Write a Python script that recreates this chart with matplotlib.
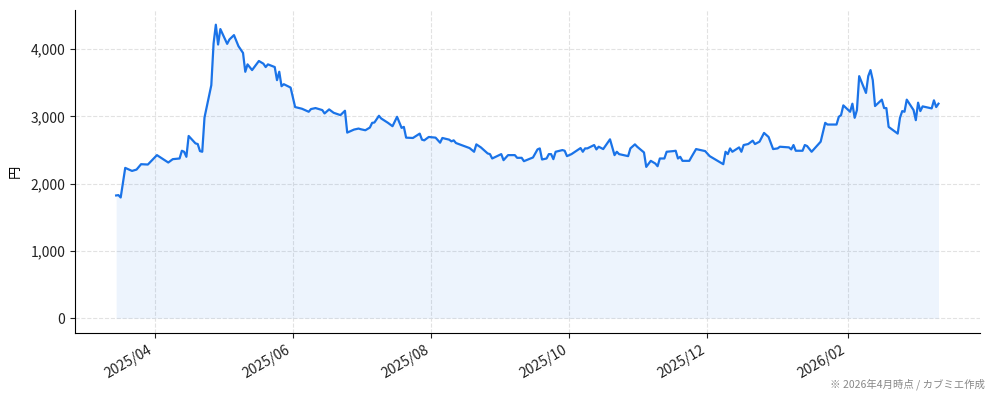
import numpy as np
import pandas as pd
import matplotlib
matplotlib.use("Agg")
import matplotlib.pyplot as plt
import matplotlib.dates as mdates
from matplotlib.ticker import FuncFormatter

plt.rcParams["font.family"] = ["Noto Sans CJK JP", "DejaVu Sans"]

# price readings (date, close in yen)
dates = [
    "2025-03-15", "2025-03-16", "2025-03-17", "2025-03-19", "2025-03-22", "2025-03-24",
    "2025-03-26", "2025-03-29", "2025-04-02", "2025-04-07", "2025-04-09", "2025-04-12",
    "2025-04-13", "2025-04-14", "2025-04-15", "2025-04-16", "2025-04-19", "2025-04-20",
    "2025-04-21", "2025-04-22", "2025-04-23", "2025-04-26", "2025-04-27", "2025-04-28",
    "2025-04-29", "2025-04-30", "2025-05-03", "2025-05-04", "2025-05-06", "2025-05-08",
    "2025-05-10", "2025-05-11", "2025-05-12", "2025-05-14", "2025-05-17", "2025-05-19",
    "2025-05-20", "2025-05-21", "2025-05-24", "2025-05-25", "2025-05-26", "2025-05-27",
    "2025-05-28", "2025-05-31", "2025-06-02", "2025-06-05", "2025-06-08", "2025-06-09",
    "2025-06-11", "2025-06-14", "2025-06-15", "2025-06-17", "2025-06-19", "2025-06-22",
    "2025-06-24", "2025-06-25", "2025-06-28", "2025-06-30", "2025-07-01", "2025-07-03",
    "2025-07-05", "2025-07-06", "2025-07-07", "2025-07-09", "2025-07-10", "2025-07-13",
    "2025-07-15", "2025-07-17", "2025-07-19", "2025-07-20", "2025-07-21", "2025-07-24",
    "2025-07-27", "2025-07-28", "2025-07-29", "2025-07-31", "2025-08-03", "2025-08-05",
    "2025-08-06", "2025-08-09", "2025-08-10", "2025-08-11", "2025-08-12", "2025-08-18",
    "2025-08-20", "2025-08-21", "2025-08-23", "2025-08-26", "2025-08-27", "2025-08-28",
    "2025-09-01", "2025-09-02", "2025-09-04", "2025-09-07", "2025-09-08", "2025-09-10",
    "2025-09-11", "2025-09-15", "2025-09-17", "2025-09-18", "2025-09-19", "2025-09-21",
    "2025-09-22", "2025-09-23", "2025-09-24", "2025-09-25", "2025-09-28", "2025-09-29",
    "2025-09-30", "2025-10-02", "2025-10-06", "2025-10-07", "2025-10-08", "2025-10-09",
    "2025-10-12", "2025-10-13", "2025-10-14", "2025-10-16", "2025-10-19", "2025-10-21",
    "2025-10-22", "2025-10-23", "2025-10-27", "2025-10-28", "2025-10-30", "2025-10-31",
    "2025-11-03", "2025-11-04", "2025-11-06", "2025-11-08", "2025-11-09", "2025-11-10",
    "2025-11-12", "2025-11-13", "2025-11-16", "2025-11-17", "2025-11-18", "2025-11-19",
    "2025-11-20", "2025-11-23", "2025-11-24", "2025-11-26", "2025-11-30", "2025-12-02",
    "2025-12-08", "2025-12-09", "2025-12-10", "2025-12-11", "2025-12-12", "2025-12-15",
    "2025-12-16", "2025-12-17", "2025-12-19", "2025-12-21", "2025-12-22", "2025-12-24",
    "2025-12-26", "2025-12-28", "2025-12-30", "2026-01-01", "2026-01-02", "2026-01-06",
    "2026-01-07", "2026-01-08", "2026-01-09", "2026-01-12", "2026-01-13", "2026-01-14",
    "2026-01-16", "2026-01-20", "2026-01-22", "2026-01-23", "2026-01-27", "2026-01-28",
    "2026-01-29", "2026-01-30", "2026-02-02", "2026-02-03", "2026-02-04", "2026-02-05",
    "2026-02-06", "2026-02-09", "2026-02-10", "2026-02-11", "2026-02-12", "2026-02-13",
    "2026-02-16", "2026-02-17", "2026-02-18", "2026-02-19", "2026-02-23", "2026-02-24",
    "2026-02-25", "2026-02-26", "2026-02-27", "2026-03-02", "2026-03-03", "2026-03-04",
    "2026-03-05", "2026-03-06", "2026-03-10", "2026-03-11", "2026-03-12", "2026-03-13",
]
prices = [
    1825, 1830, 1795, 2235, 2190, 2210,
    2290, 2285, 2425, 2315, 2365, 2375,
    2490, 2475, 2400, 2710, 2600, 2590,
    2485, 2475, 2985, 3465, 4085, 4365,
    4070, 4300, 4080, 4145, 4210, 4045,
    3945, 3665, 3775, 3690, 3825, 3785,
    3735, 3775, 3735, 3540, 3665, 3450,
    3480, 3430, 3140, 3115, 3070, 3110,
    3125, 3095, 3045, 3105, 3055, 3020,
    3085, 2760, 2805, 2820, 2810, 2795,
    2835, 2905, 2910, 3010, 2970, 2905,
    2855, 2995, 2830, 2845, 2685, 2680,
    2745, 2655, 2645, 2695, 2685, 2610,
    2680, 2655, 2630, 2645, 2605, 2530,
    2475, 2585, 2540, 2450, 2440, 2375,
    2440, 2350, 2425, 2425, 2385, 2385,
    2335, 2390, 2510, 2525, 2360, 2375,
    2440, 2440, 2365, 2475, 2500, 2490,
    2410, 2440, 2530, 2475, 2525, 2525,
    2575, 2510, 2550, 2515, 2660, 2425,
    2475, 2440, 2410, 2525, 2585, 2550,
    2465, 2250, 2340, 2300, 2260, 2375,
    2375, 2475, 2485, 2490, 2375, 2400,
    2340, 2340, 2400, 2515, 2485, 2410,
    2290, 2475, 2440, 2525, 2475, 2540,
    2475, 2575, 2590, 2640, 2590, 2625,
    2755, 2695, 2515, 2525, 2550, 2540,
    2510, 2575, 2490, 2490, 2575, 2560,
    2475, 2625, 2905, 2880, 2880, 2995,
    3020, 3165, 3070, 3190, 2980, 3095,
    3600, 3350, 3600, 3690, 3540, 3155,
    3250, 3125, 3125, 2845, 2745, 2980,
    3080, 3070, 3250, 3095, 2945, 3205,
    3080, 3150, 3120, 3240, 3140, 3190,
]

LINE = "#1a73e8"

x = pd.to_datetime(dates)
y = np.array(prices)

fig = plt.figure(figsize=(9.94, 4.01), dpi=100)
ax = fig.add_axes([0.0755, 0.170, 0.910, 0.805])
ax.plot(x, y, color=LINE, lw=1.6)
ax.fill_between(x, y, 0, color=LINE, alpha=0.08, lw=0)

ax.xaxis.set_major_locator(mdates.MonthLocator(bymonth=[2, 4, 6, 8, 10, 12]))
ax.xaxis.set_major_formatter(mdates.DateFormatter("%Y/%m"))
ax.yaxis.set_major_formatter(FuncFormatter(lambda v, p: f"{int(v):,}"))
ax.set_yticks([0, 1000, 2000, 3000, 4000])
for lab in ax.get_xticklabels():
    lab.set_rotation(30)
    lab.set_ha("right")
ax.tick_params(labelsize=10, colors="#222222")
ax.set_ylabel("円", fontsize=9.5, labelpad=6)
ax.grid(True, ls="--", color="#e2e2e2", lw=0.8)
ax.set_axisbelow(True)
for s in ("top", "right"):
    ax.spines[s].set_visible(False)

fig.text(0.991, 0.028, "※ 2026年4月時点 / カブミエ作成", ha="right", va="bottom",
         fontsize=7.5, color="#888888")
fig.savefig("out.png", dpi=100)
